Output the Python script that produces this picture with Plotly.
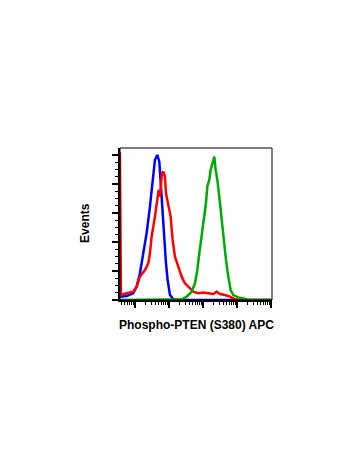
import plotly.graph_objects as go

# Histogram data (x: fluorescence intensity, y: % of max)
blue_x = [3.6, 5.7, 8.9, 11.2, 14.0, 17.6, 22.0, 27.6, 30.9, 34.6, 38.7, 45.4, 52.0, 58.2,
          65.2, 72.9, 81.7, 91.4, 107, 134, 200, 1000, 10000, 110000]
blue_y = [2.3, 2.8, 4.6, 9.2, 18.4, 32.2, 46.0, 64.4, 75.9, 89.7, 96.6, 100, 95.4, 78.2,
          59.8, 41.4, 25.3, 13.8, 3.4, 0.5, 0, 0, 0, 0]

red_x = [3.6, 3.87, 5.7, 8.9, 11.2, 14.0, 19.7, 24.7, 27.6, 30.9, 38.7, 45.4, 49.7, 54.3,
         58.2, 62.2, 68.1, 76.2, 81.7, 95.5, 112, 128, 150, 188, 236, 295, 371, 520, 730,
         1023, 1436, 2014, 2523, 3162, 4436, 6223, 8730, 12250, 110000]
red_y = [102, 3.4, 4.6, 5.7, 9.2, 16.1, 20.7, 25.3, 32.2, 43.7, 57.5, 69.0, 75.9, 71.3,
         80.5, 87.4, 88.5, 85.1, 73.6, 66.7, 57.5, 41.4, 29.9, 23.0, 16.1, 11.5, 9.2, 5.7, 4.6,
         5.1, 4.6, 4.1, 5.7, 4.1, 3.4, 2.3, 0.5, 0, 0]

green_x = [3.6, 168, 236, 331, 464, 582, 681, 780, 914, 1069, 1224, 1340, 1535, 1680, 1923,
           2154, 2360, 2642, 3020, 3540, 4150, 4745, 5560, 6516, 7800, 10960, 15350, 21540, 110000]
green_y = [0, 0, 0.5, 2.3, 5.7, 11.5, 20.7, 32.2, 43.7, 55.2, 66.7, 78.2, 82.8, 89.7, 95.4,
           98.9, 89.7, 82.8, 71.3, 55.2, 41.4, 27.6, 16.1, 6.9, 3.4, 1.8, 1.1, 0, 0]

x_title = "Phospho-PTEN (S380) APC"
y_title = "Events"

fig = go.Figure()
for xs, ys, col in [(blue_x, blue_y, "#0000ff"), (red_x, red_y, "#ff0000"), (green_x, green_y, "#00aa00")]:
    fig.add_trace(go.Scatter(x=xs, y=ys, mode="lines", line=dict(color=col, width=2.5),
                             showlegend=False, hoverinfo="skip"))

fig.update_layout(
    width=342, height=459,
    margin=dict(l=112, r=78, t=140, b=167),
    paper_bgcolor="white", plot_bgcolor="white",
    font=dict(family="Liberation Sans, Arial, sans-serif", color="black"),
    xaxis=dict(type="log", range=[0.56, 5.03], showgrid=False, zeroline=False,
               showline=True, linecolor="black", linewidth=1.5,
               ticks="outside", ticklen=6, tickwidth=1.5, tickcolor="black", dtick=1,
               showticklabels=False,
               minor=dict(ticks="outside", ticklen=3, tickwidth=1, tickcolor="black", dtick="D1")),
    yaxis=dict(range=[0, 104.8], showgrid=False, zeroline=False,
               showline=True, linecolor="black", linewidth=1.5,
               ticks="outside", ticklen=6, tickwidth=1.5, tickcolor="black", dtick=20,
               showticklabels=False,
               minor=dict(ticks="outside", ticklen=3.5, tickwidth=1, tickcolor="black", dtick=5)),
    shapes=[dict(type="rect", xref="paper", yref="paper", x0=0, y0=0, x1=1, y1=1,
                 line=dict(color="black", width=1), layer="above")],
    annotations=[
        dict(text="<b>" + x_title + "</b>", xref="paper", yref="paper", x=0.5, y=-0.164,
             xanchor="center", yanchor="middle", showarrow=False, font=dict(size=12)),
        dict(text="<b>" + y_title + "</b>", xref="paper", yref="paper", x=-0.23, y=0.507,
             xanchor="center", yanchor="middle", showarrow=False, textangle=-90, font=dict(size=12)),
    ],
)

fig.write_html("out.html")
